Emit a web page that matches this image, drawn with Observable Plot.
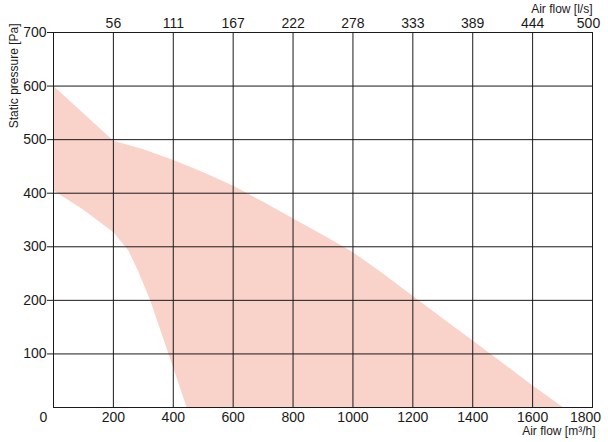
<!DOCTYPE html>
<html>
<head>
<meta charset="utf-8">
<script src="https://cdn.jsdelivr.net/npm/d3@7"></script>
<script src="https://cdn.jsdelivr.net/npm/@observablehq/plot@0.6"></script>
<style>
  html, body { margin: 0; padding: 0; background: #fff; }
  #chart svg { display: block; }
</style>
</head>
<body>
<div id="chart"></div>
<script>
// Air flow ticks (m³/h) and matching l/s labels
const xTicks = [0, 200, 400, 600, 800, 1000, 1200, 1400, 1600, 1800];
const lsLabels = ["56", "111", "167", "222", "278", "333", "389", "444", "500"]; // for 200..1800
const yTicks = [0, 100, 200, 300, 400, 500, 600, 700];

// Working range envelope: upper boundary (max curve)
const upperFlow = [0, 200, 300, 400, 500, 600, 700, 800, 900, 950, 1000, 1100, 1200, 1300, 1400, 1500, 1600, 1703];
const upperPressure = [600, 498, 482, 462, 439, 414, 384, 353, 322, 306, 290, 250, 208, 166, 125, 83, 41, 0];
// lower boundary (min curve)
const lowerFlow = [0, 100, 200, 250, 280, 323, 384, 445];
const lowerPressure = [405, 369, 327, 293, 258, 200, 100, 0];

const polygon = [
  ...upperFlow.map((f, i) => ({flow: f, p: upperPressure[i]})),
  ...lowerFlow.map((f, i) => ({flow: f, p: lowerPressure[i]})).reverse()
];

const font = "'Liberation Sans', Arial, Helvetica, sans-serif";
const ink = "#1a1a1a";
const fmt = d => String(d);

const chart = Plot.plot({
  width: 608,
  height: 442,
  marginLeft: 53,
  marginRight: 16,
  marginTop: 32,
  marginBottom: 35,
  style: {fontFamily: font, fontSize: "14px", color: ink, background: "transparent"},
  x: {domain: [0, 1800]},
  y: {domain: [0, 700]},
  marks: [
    Plot.line(polygon, {x: "flow", y: "p", fill: "#f9d2ca", stroke: "none"}),
    Plot.ruleX(xTicks.slice(1, -1), {stroke: ink, strokeWidth: 1}),
    Plot.ruleY(yTicks.slice(1, -1), {stroke: ink, strokeWidth: 1}),
    Plot.frame({stroke: ink, strokeWidth: 1}),
    // bottom axis
    Plot.axisX(xTicks.slice(1, -1), {anchor: "bottom", tickSize: 0, tickPadding: 5, fontSize: 14, label: null, tickFormat: fmt}),
    Plot.axisX([0], {anchor: "bottom", tickSize: 0, tickPadding: 5, fontSize: 14, dx: -10, label: null, tickFormat: fmt}),
    Plot.axisX([1800], {anchor: "bottom", tickSize: 0, tickPadding: 5, fontSize: 14, dx: -7, label: null, tickFormat: fmt}),
    // top axis (l/s)
    Plot.axisX(xTicks.slice(1, -1), {anchor: "top", tickSize: 0, tickPadding: 5, fontSize: 14, label: null,
      tickFormat: d => lsLabels[xTicks.indexOf(d) - 1]}),
    Plot.axisX([1800], {anchor: "top", tickSize: 0, tickPadding: 5, fontSize: 14, label: null, dx: -4,
      tickFormat: d => lsLabels[xTicks.indexOf(d) - 1]}),
    // left axis
    Plot.axisY(yTicks.slice(1), {anchor: "left", tickSize: 6, tickPadding: 1, fontSize: 14, label: null, stroke: ink, tickFormat: fmt}),
    // axis titles
    Plot.text(["Air flow [l/s]"], {frameAnchor: "top-right", text: d => d, textAnchor: "end", lineAnchor: "bottom", dy: -19.5, fontSize: 12, fill: ink}),
    Plot.text(["Air flow [m³/h]"], {frameAnchor: "bottom-right", text: d => d, textAnchor: "end", lineAnchor: "bottom", dx: 3, dy: 27.5, fontSize: 12, fill: ink}),
    Plot.text(["Static pressure [Pa]"], {frameAnchor: "top-left", text: d => d, rotate: -90, textAnchor: "end", lineAnchor: "bottom", dx: -36, dy: -9, fontSize: 12, fill: ink})
  ]
});

document.getElementById("chart").appendChild(chart);
</script>
</body>
</html>
